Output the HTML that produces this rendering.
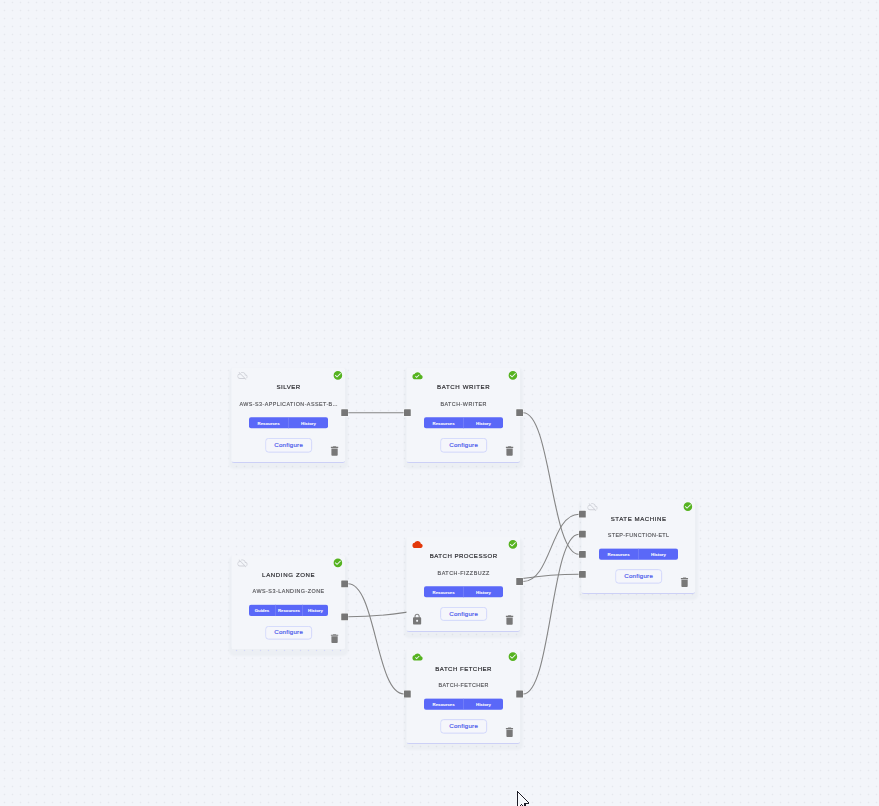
<!DOCTYPE html>
<html><head><meta charset="utf-8"><title>Pipeline</title>
<style>
html,body{margin:0;padding:0}
body{width:879px;height:806px;overflow:hidden;position:relative;background-color:#f3f5fa;
 background-image:radial-gradient(circle at 4.5px 2.5px,#e6e8ee 0,#e6e8ee .45px,rgba(230,232,238,0) 1.2px);
 background-size:8px 8px;font-family:"Liberation Sans",sans-serif}
#stage{position:absolute;left:0;top:0;width:3516px;height:3224px;transform:scale(.25);transform-origin:0 0}
#edges{position:absolute;left:0;top:0;width:3516px;height:3224px}
.node{position:absolute;box-sizing:border-box;background:#f4f6fa;border-radius:10px;border-bottom:4px solid #ccd0f6;box-shadow:0 14px 8px 10px rgba(65,72,95,.036)}
.ic{position:absolute;display:block}
.tt{position:absolute;text-align:center;white-space:nowrap;color:#2a2a2e;-webkit-text-stroke:.7px #2a2a2e}
.sb{position:absolute;text-align:center;white-space:nowrap;color:#505054;-webkit-text-stroke:.5px #505054}
.bar{position:absolute;background:#5a68f8;border-radius:8px;display:flex}
.bar div{flex:1;text-align:center;color:#fff;font-weight:bold;white-space:nowrap;border-left:2.6px solid #8791f9;box-sizing:border-box;margin:-1.5px 0;-webkit-text-stroke:.25px #fff}
.bar div:first-child{border-left:0}
.cfg{position:absolute;box-sizing:border-box;border:3.1px solid #c7cdfb;border-radius:13px;background:#f5f6fb;color:#4c59ec;text-align:center;white-space:nowrap;-webkit-text-stroke:.7px #4c59ec}
.h{position:absolute;background:#767676;border-radius:1.5px;box-shadow:0 0 0 1.6px rgba(255,255,255,.75)}
</style></head><body>
<div id="stage">

<svg id="edges" viewBox="0 0 3516 3224" fill="none" stroke="#858585" stroke-width="4.4">
<path d="M1392.0 1651.2C1503.8 1651.2 1503.8 1651.2 1615.6 1651.2"/>
<path d="M2092.4 1651.2C2204.0 1651.2 2204.0 2217.2 2315.6 2217.2"/>
<path d="M2092.4 2326.0C2204.0 2326.0 2204.0 2056.8 2315.6 2056.8"/>
<path d="M1864.0 2330.8C2089.8 2330.8 2089.8 2296.8 2315.6 2296.8"/>
<path d="M2092.4 2776.0C2204.0 2776.0 2204.0 2136.8 2315.6 2136.8"/>
<path d="M1392.0 2335.2C1503.8 2335.2 1503.8 2776.0 1615.6 2776.0"/>
<path d="M1392.0 2467.2C1615.0 2467.2 1615.0 2433.6 1838.0 2433.6"/>
</svg>
<div class="node" style="left:926.4px;top:1470.8px;width:453.2px;height:381.2px"></div>
<svg class="ic" style="left:949.2px;top:1481.2px;width:41.6px;height:41.6px;" viewBox="0 0 24 24"><path fill="#cfd1d8" d="M24 15c0-2.64-2.05-4.78-4.65-4.96C18.67 6.59 15.64 4 12 4c-1.33 0-2.57.36-3.65.97l1.49 1.49C10.51 6.17 11.23 6 12 6c3.04 0 5.5 2.46 5.5 5.5v.5H19c1.66 0 3 1.34 3 3 0 .99-.48 1.85-1.21 2.4l1.41 1.41c1.09-.92 1.8-2.27 1.8-3.81zM4.41 3.86L3 5.27l2.77 2.77h-.42C2.34 8.36 0 10.91 0 14c0 3.31 2.69 6 6 6h11.73l2 2 1.41-1.41L4.410 3.86zM6 18c-2.21 0-4-1.79-4-4s1.790-4 4-4h1.730l8 8H6z"/></svg>
<svg class="ic" style="left:1331px;top:1481.4px;width:41.2px;height:41.2px;" viewBox="0 0 24 24"><path fill="#56b320" d="M12 2C6.48 2 2 6.48 2 12s4.48 10 10 10 10-4.48 10-10S17.52 2 12 2zm-2 15l-5-5 1.41-1.41L10 14.17l7.59-7.59L19 8l-9 9z"/></svg>
<div class="tt" style="left:934.6px;top:1528.4px;width:440px;font-size:24.4px;line-height:40px;letter-spacing:2.01px">SILVER</div>
<div class="sb" style="left:934.44px;top:1596.8px;width:440px;font-size:21.6px;line-height:40px;letter-spacing:1.69px">AWS-S3-APPLICATION-ASSET-B<span style="letter-spacing:.04em">...</span></div>
<div class="bar" style="left:995.6px;top:1669px;width:316.8px;height:43.8px;font-size:17.2px;line-height:48.6px"><div style="flex:1">Resources</div><div style="flex:1">History</div></div>
<div class="cfg" style="left:1061.2px;top:1752.4px;width:186.8px;height:58px;font-size:24.8px;line-height:47.8px;letter-spacing:0.88px">Configure</div>
<svg class="ic" style="left:1313.2px;top:1779.2px;width:50.4px;height:50.4px;" viewBox="0 0 24 24"><path fill="#787878" d="M6 19c0 1.1.9 2 2 2h8c1.1 0 2-.9 2-2V7H6v12zM19 4h-3.5l-1-1h-5l-1 1H5v2h14V4z"/></svg>
<div class="h" style="left:1365px;top:1637.2px;width:27.2px;height:27.2px"></div>
<div class="node" style="left:1626.4px;top:1470.8px;width:453.2px;height:381.2px"></div>
<svg class="ic" style="left:1648.8px;top:1482px;width:42.4px;height:42.4px;" viewBox="0 0 24 24"><path fill="#56b320" d="M19.35 10.04C18.67 6.59 15.64 4 12 4 9.11 4 6.6 5.64 5.35 8.04 2.34 8.36 0 10.91 0 14c0 3.31 2.69 6 6 6h13c2.76 0 5-2.24 5-5 0-2.64-2.05-4.78-4.65-4.96zM10 17l-3.5-3.5 1.41-1.41L10 14.17 15.18 9l1.41 1.41L10 17z"/></svg>
<svg class="ic" style="left:2031px;top:1481.4px;width:41.2px;height:41.2px;" viewBox="0 0 24 24"><path fill="#56b320" d="M12 2C6.48 2 2 6.48 2 12s4.48 10 10 10 10-4.48 10-10S17.52 2 12 2zm-2 15l-5-5 1.41-1.41L10 14.17l7.59-7.59L19 8l-9 9z"/></svg>
<div class="tt" style="left:1634.8px;top:1528.4px;width:440px;font-size:24.4px;line-height:40px;letter-spacing:2.4px">BATCH WRITER</div>
<div class="sb" style="left:1634.52px;top:1596.8px;width:440px;font-size:21.6px;line-height:40px;letter-spacing:1.84px">BATCH-WRITER</div>
<div class="bar" style="left:1695.6px;top:1669px;width:316.8px;height:43.8px;font-size:17.2px;line-height:48.6px"><div style="flex:1">Resources</div><div style="flex:1">History</div></div>
<div class="cfg" style="left:1761.2px;top:1752.4px;width:186.8px;height:58px;font-size:24.8px;line-height:47.8px;letter-spacing:0.88px">Configure</div>
<svg class="ic" style="left:2013.2px;top:1779.2px;width:50.4px;height:50.4px;" viewBox="0 0 24 24"><path fill="#787878" d="M6 19c0 1.1.9 2 2 2h8c1.1 0 2-.9 2-2V7H6v12zM19 4h-3.5l-1-1h-5l-1 1H5v2h14V4z"/></svg>
<div class="h" style="left:2065px;top:1637.2px;width:27.2px;height:27.2px"></div>
<div class="h" style="left:1615.6px;top:1637.2px;width:27.2px;height:27.2px"></div>
<div class="node" style="left:926.4px;top:2221.6px;width:453.2px;height:375.2px;border-bottom-color:rgba(0,0,0,0)"></div>
<svg class="ic" style="left:949.2px;top:2231.2px;width:41.6px;height:41.6px;" viewBox="0 0 24 24"><path fill="#cfd1d8" d="M24 15c0-2.64-2.05-4.78-4.65-4.96C18.67 6.59 15.64 4 12 4c-1.33 0-2.57.36-3.65.97l1.49 1.49C10.51 6.17 11.23 6 12 6c3.04 0 5.5 2.46 5.5 5.5v.5H19c1.66 0 3 1.34 3 3 0 .99-.48 1.85-1.21 2.4l1.41 1.41c1.09-.92 1.8-2.27 1.8-3.81zM4.41 3.86L3 5.27l2.77 2.77h-.42C2.34 8.36 0 10.91 0 14c0 3.31 2.69 6 6 6h11.73l2 2 1.41-1.41L4.410 3.86zM6 18c-2.21 0-4-1.79-4-4s1.790-4 4-4h1.730l8 8H6z"/></svg>
<svg class="ic" style="left:1331px;top:2231.4px;width:41.2px;height:41.2px;" viewBox="0 0 24 24"><path fill="#56b320" d="M12 2C6.48 2 2 6.48 2 12s4.48 10 10 10 10-4.48 10-10S17.52 2 12 2zm-2 15l-5-5 1.41-1.41L10 14.17l7.59-7.59L19 8l-9 9z"/></svg>
<div class="tt" style="left:934.84px;top:2281px;width:440px;font-size:24.4px;line-height:40px;letter-spacing:2.48px">LANDING ZONE</div>
<div class="sb" style="left:934.55px;top:2345.2px;width:440px;font-size:21.6px;line-height:40px;letter-spacing:1.9px">AWS-S3-LANDING-ZONE</div>
<div class="bar" style="left:995.6px;top:2418.8px;width:316.8px;height:44.8px;font-size:17.2px;line-height:49.6px"><div style="flex:26.5">Guides</div><div style="flex:27.1">Resources</div><div style="flex:25.6">History</div></div>
<div class="cfg" style="left:1061.2px;top:2504.4px;width:186.8px;height:53.6px;font-size:24.8px;line-height:39.4px;letter-spacing:0.88px">Configure</div>
<svg class="ic" style="left:1313.2px;top:2529.2px;width:50.4px;height:50.4px;transform:scaleY(.92);" viewBox="0 0 24 24"><path fill="#787878" d="M6 19c0 1.1.9 2 2 2h8c1.1 0 2-.9 2-2V7H6v12zM19 4h-3.5l-1-1h-5l-1 1H5v2h14V4z"/></svg>
<div style="position:absolute;left:928px;top:2600px;width:448px;height:4px;background:repeating-linear-gradient(90deg,rgba(0,0,0,0) 0,rgba(0,0,0,0) 16px,#d2d6f9 16px,#d2d6f9 20px,rgba(0,0,0,0) 20px,rgba(0,0,0,0) 32px)"></div>
<div class="h" style="left:1365px;top:2321.6px;width:27.2px;height:27.2px"></div>
<div class="h" style="left:1365px;top:2453.6px;width:27.2px;height:27.2px"></div>
<div class="node" style="left:1626.4px;top:2147.6px;width:453.2px;height:380.4px"></div>
<svg class="ic" style="left:1648.8px;top:2157.2px;width:42.4px;height:42.4px;" viewBox="0 0 24 24"><path fill="#e2380a" d="M19.35 10.04C18.67 6.59 15.64 4 12 4 9.11 4 6.6 5.64 5.35 8.04 2.34 8.36 0 10.91 0 14c0 3.31 2.69 6 6 6h13c2.76 0 5-2.24 5-5 0-2.64-2.05-4.78-4.65-4.96z"/></svg>
<svg class="ic" style="left:2031px;top:2156.6px;width:41.2px;height:41.2px;" viewBox="0 0 24 24"><path fill="#56b320" d="M12 2C6.48 2 2 6.48 2 12s4.48 10 10 10 10-4.48 10-10S17.52 2 12 2zm-2 15l-5-5 1.41-1.41L10 14.17l7.59-7.59L19 8l-9 9z"/></svg>
<div class="tt" style="left:1634.53px;top:2204.4px;width:440px;font-size:24.4px;line-height:40px;letter-spacing:1.85px">BATCH PROCESSOR</div>
<div class="sb" style="left:1634.61px;top:2272.6px;width:440px;font-size:21.6px;line-height:40px;letter-spacing:2.02px">BATCH-FIZZBUZZ</div>
<div class="bar" style="left:1695.6px;top:2345px;width:316.8px;height:43.8px;font-size:17.2px;line-height:48.6px"><div style="flex:1">Resources</div><div style="flex:1">History</div></div>
<div class="cfg" style="left:1761.2px;top:2428.4px;width:186.8px;height:54.6px;font-size:24.8px;line-height:48.2px;letter-spacing:0.88px">Configure</div>
<svg class="ic" style="left:2013.2px;top:2455.2px;width:50.4px;height:50.4px;" viewBox="0 0 24 24"><path fill="#787878" d="M6 19c0 1.1.9 2 2 2h8c1.1 0 2-.9 2-2V7H6v12zM19 4h-3.5l-1-1h-5l-1 1H5v2h14V4z"/></svg>
<svg class="ic" style="left:1644px;top:2452.8px;width:48.8px;height:48.8px;" viewBox="0 0 24 24"><path fill="#787878" d="M18 8h-1V6c0-2.76-2.24-5-5-5S7 3.24 7 6v2H6c-1.1 0-2 .9-2 2v10c0 1.1.9 2 2 2h12c1.1 0 2-.9 2-2V10c0-1.1-.9-2-2-2zm-6 9c-1.1 0-2-.9-2-2s.9-2 2-2 2 .9 2 2-.9 2-2 2zm3.1-9H8.9V6c0-1.71 1.39-3.1 3.1-3.1 1.71 0 3.1 1.39 3.1 3.1v2z"/></svg>
<div class="h" style="left:2065px;top:2312.4px;width:27.2px;height:27.2px"></div>
<div class="node" style="left:1626.4px;top:2597.6px;width:453.2px;height:378.4px"></div>
<svg class="ic" style="left:1648.8px;top:2606.8px;width:42.4px;height:42.4px;" viewBox="0 0 24 24"><path fill="#56b320" d="M19.35 10.04C18.67 6.59 15.64 4 12 4 9.11 4 6.6 5.64 5.35 8.04 2.34 8.36 0 10.91 0 14c0 3.31 2.69 6 6 6h13c2.76 0 5-2.24 5-5 0-2.64-2.05-4.78-4.65-4.96zM10 17l-3.5-3.5 1.41-1.41L10 14.17 15.18 9l1.41 1.41L10 17z"/></svg>
<svg class="ic" style="left:2031px;top:2606.2px;width:41.2px;height:41.2px;" viewBox="0 0 24 24"><path fill="#56b320" d="M12 2C6.48 2 2 6.48 2 12s4.48 10 10 10 10-4.48 10-10S17.52 2 12 2zm-2 15l-5-5 1.41-1.41L10 14.17l7.59-7.59L19 8l-9 9z"/></svg>
<div class="tt" style="left:1634.52px;top:2656.4px;width:440px;font-size:24.4px;line-height:40px;letter-spacing:1.85px">BATCH FETCHER</div>
<div class="sb" style="left:1634.39px;top:2721.2px;width:440px;font-size:21.6px;line-height:40px;letter-spacing:1.59px">BATCH-FETCHER</div>
<div class="bar" style="left:1695.6px;top:2794.4px;width:316.8px;height:44.4px;font-size:17.2px;line-height:49.2px"><div style="flex:1">Resources</div><div style="flex:1">History</div></div>
<div class="cfg" style="left:1761.2px;top:2876.8px;width:186.8px;height:57.2px;font-size:24.8px;line-height:47.4px;letter-spacing:0.88px">Configure</div>
<svg class="ic" style="left:2013.2px;top:2903.6px;width:50.4px;height:50.4px;" viewBox="0 0 24 24"><path fill="#787878" d="M6 19c0 1.1.9 2 2 2h8c1.1 0 2-.9 2-2V7H6v12zM19 4h-3.5l-1-1h-5l-1 1H5v2h14V4z"/></svg>
<div class="h" style="left:2065px;top:2762.4px;width:27.2px;height:27.2px"></div>
<div class="h" style="left:1615.6px;top:2762.4px;width:27.2px;height:27.2px"></div>
<div class="node" style="left:2326.4px;top:1997.6px;width:453.2px;height:378.4px"></div>
<svg class="ic" style="left:2349.2px;top:2006px;width:41.6px;height:41.6px;" viewBox="0 0 24 24"><path fill="#cfd1d8" d="M24 15c0-2.64-2.05-4.78-4.65-4.96C18.67 6.59 15.64 4 12 4c-1.33 0-2.57.36-3.65.97l1.49 1.49C10.51 6.17 11.23 6 12 6c3.04 0 5.5 2.46 5.5 5.5v.5H19c1.66 0 3 1.34 3 3 0 .99-.48 1.85-1.21 2.4l1.41 1.41c1.09-.92 1.8-2.27 1.8-3.81zM4.41 3.86L3 5.27l2.77 2.77h-.42C2.34 8.36 0 10.91 0 14c0 3.31 2.69 6 6 6h11.73l2 2 1.41-1.41L4.410 3.86zM6 18c-2.21 0-4-1.79-4-4s1.790-4 4-4h1.730l8 8H6z"/></svg>
<svg class="ic" style="left:2731px;top:2006.2px;width:41.2px;height:41.2px;" viewBox="0 0 24 24"><path fill="#56b320" d="M12 2C6.48 2 2 6.48 2 12s4.48 10 10 10 10-4.48 10-10S17.52 2 12 2zm-2 15l-5-5 1.41-1.41L10 14.17l7.59-7.59L19 8l-9 9z"/></svg>
<div class="tt" style="left:2334.73px;top:2056.4px;width:440px;font-size:24.4px;line-height:40px;letter-spacing:2.26px">STATE MACHINE</div>
<div class="sb" style="left:2334.32px;top:2121.2px;width:440px;font-size:21.6px;line-height:40px;letter-spacing:1.44px">STEP-FUNCTION-ETL</div>
<div class="bar" style="left:2395.6px;top:2194.4px;width:316.8px;height:44.4px;font-size:17.2px;line-height:49.2px"><div style="flex:1">Resources</div><div style="flex:1">History</div></div>
<div class="cfg" style="left:2461.2px;top:2276.8px;width:186.8px;height:57.2px;font-size:24.8px;line-height:47.4px;letter-spacing:0.88px">Configure</div>
<svg class="ic" style="left:2713.2px;top:2303.6px;width:50.4px;height:50.4px;" viewBox="0 0 24 24"><path fill="#787878" d="M6 19c0 1.1.9 2 2 2h8c1.1 0 2-.9 2-2V7H6v12zM19 4h-3.5l-1-1h-5l-1 1H5v2h14V4z"/></svg>
<div class="h" style="left:2315.6px;top:2043.2px;width:27.2px;height:27.2px"></div>
<div class="h" style="left:2315.6px;top:2123.2px;width:27.2px;height:27.2px"></div>
<div class="h" style="left:2315.6px;top:2203.6px;width:27.2px;height:27.2px"></div>
<div class="h" style="left:2315.6px;top:2283.6px;width:27.2px;height:27.2px"></div>
</div>
<svg style="position:absolute;left:510px;top:786px;width:26px;height:20px" viewBox="510 786 26 20"><path d="M517.5 791.2V807L521.2 804.3 524 810 526 809 524.6 803.5H528.8Z" fill="#f5f7fb" stroke="#fff" stroke-opacity=".85" stroke-width="2" stroke-linejoin="round"/><g fill="#1c1c28" shape-rendering="crispEdges"><rect x="517" y="791" width="1" height="15"/><rect x="518" y="792" width="1" height="1"/><rect x="519" y="793" width="1" height="1"/><rect x="520" y="794" width="1" height="1"/><rect x="521" y="795" width="1" height="1"/><rect x="522" y="796" width="1" height="1"/><rect x="523" y="797" width="1" height="1"/><rect x="524" y="798" width="1" height="1"/><rect x="525" y="799" width="1" height="1"/><rect x="526" y="800" width="1" height="1"/><rect x="527" y="801" width="1" height="1"/><rect x="528" y="802" width="1" height="1"/><rect x="524" y="803" width="5" height="1"/><rect x="524" y="804" width="1.5" height="2"/><rect x="520" y="805" width="1" height="1"/><rect x="521" y="804" width="1" height="1"/><rect x="522" y="805" width="1" height="1"/></g><path d="M517.5 791.5L528.5 802.5" stroke="#1c1c28" stroke-width=".55" fill="none"/></svg>
</body></html>
